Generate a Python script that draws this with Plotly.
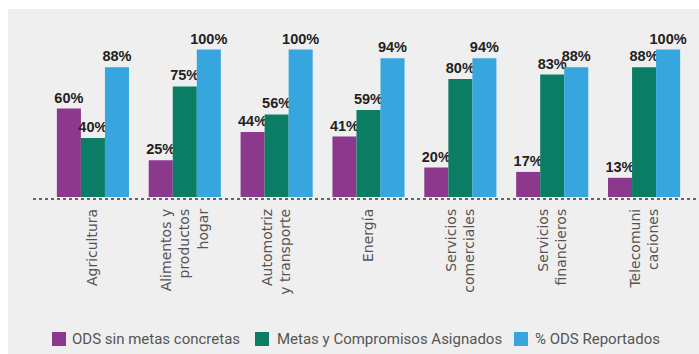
import plotly.graph_objects as go

# Sector categories (tick labels, line breaks as printed)
categories = [
    "Agricultura",
    "Alimentos y<br>productos<br>hogar",
    "Automotriz<br>y transporte",
    "Energía",
    "Servicios<br>comerciales",
    "Servicios<br>financieros",
    "Telecomuni<br>caciones",
]

# Percentages per sector
ods_sin_metas = [60, 25, 44, 41, 20, 17, 13]
metas_compromisos = [40, 75, 56, 59, 80, 83, 88]
ods_reportados = [88, 100, 100, 94, 94, 88, 100]

series_names = [
    "ODS sin metas concretas",
    "Metas y Compromisos Asignados",
    "% ODS Reportados",
]
series_values = [ods_sin_metas, metas_compromisos, ods_reportados]
series_colors = ["#8c388c", "#0b7d64", "#37a5de"]

W, H = 699, 354
ML, MR, MT, MB = 47, 9, 35, 157
PW = W - ML - MR
PH = H - MT - MB


def px_x(px):
    return (px - ML) / PW


def px_y(py):
    return (H - MB - py) / PH


fig = go.Figure()
for name, vals, col in zip(series_names, series_values, series_colors):
    fig.add_trace(go.Bar(
        x=categories,
        y=vals,
        name=name,
        marker=dict(color=col, line=dict(width=0)),
        texttemplate="%{y}%",
        textposition="outside",
        constraintext="none",
        cliponaxis=False,
        textfont=dict(family="Liberation Sans", size=14.5, color="#222222", weight="bold"),
        showlegend=False,
    ))

shapes = [
    # light grey panel behind the chart
    dict(type="rect", xref="paper", yref="paper", layer="below",
         x0=px_x(8), x1=px_x(W + 2), y0=px_y(H + 2), y1=px_y(9),
         fillcolor="#efefef", line=dict(width=0)),
    # dotted baseline
    dict(type="line", xref="paper", yref="paper", layer="below",
         x0=px_x(33), x1=px_x(W), y0=px_y(199), y1=px_y(199),
         line=dict(color="#666666", width=2, dash="dot")),
]

annotations = []
# hand-placed legend: colour square + label
legend_pos = [(52, 70), (255, 275), (514, 533)]
for (sq, tx), name, col in zip(legend_pos, series_names, series_colors):
    shapes.append(dict(type="rect", xref="paper", yref="paper",
                       x0=px_x(sq), x1=px_x(sq + 14), y0=px_y(346), y1=px_y(332),
                       fillcolor=col, line=dict(width=0)))
    annotations.append(dict(xref="paper", yref="paper", x=px_x(tx), y=px_y(339),
                            xanchor="left", yanchor="middle", showarrow=False,
                            text=name,
                            font=dict(family="Roboto", size=15, color="#555555")))

fig.update_layout(
    width=W, height=H,
    margin=dict(l=ML, r=MR, t=MT, b=MB, pad=0),
    paper_bgcolor="white",
    plot_bgcolor="rgba(0,0,0,0)",
    barmode="group",
    bargap=0.215,
    bargroupgap=0,
    shapes=shapes,
    annotations=annotations,
    showlegend=False,
    xaxis=dict(
        range=[-0.5, 6.5],
        tickangle=-90,
        showgrid=False, zeroline=False, showline=False,
        ticks="", ticklabelstandoff=8,
        tickfont=dict(family="DejaVu Sans", size=14, color="#555555"),
    ),
    yaxis=dict(
        range=[0, PH / 1.475],
        visible=False,
    ),
)

fig.write_html("out.html")
